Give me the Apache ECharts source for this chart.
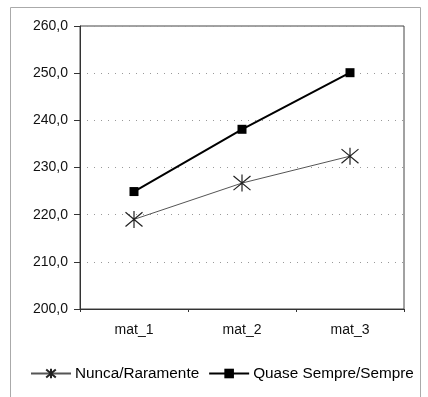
<!DOCTYPE html>
<html><head><meta charset="utf-8">
<script src="https://cdn.jsdelivr.net/npm/echarts@6/dist/echarts.min.js"></script>
<style>html,body{margin:0;padding:0;background:#fff}#c{width:428px;height:397px}</style>
</head><body><div id="c"></div>
<script>
const categories = ['mat_1', 'mat_2', 'mat_3'];
const nunca = [219.0, 226.7, 232.4];
const quase = [224.9, 238.1, 250.1];
const seriesNames = ['Nunca/Raramente', 'Quase Sempre/Sempre'];
const yMin = 200, yMax = 260, yStep = 10;

const star = 'path://M0,0L10,10M10,0L0,10M5,-1L5,11';
const chart = echarts.init(document.getElementById('c'));
const font = 'Liberation Sans, Arial, sans-serif';
chart.setOption({
  animation: false,
  backgroundColor: '#fff',
  graphic: [{type:'rect', shape:{x:10.5,y:7.5,width:410,height:400}, style:{fill:'none', stroke:'#aaa', lineWidth:1}, silent:true}],
  grid: {left: 80, top: 26, right: 24, bottom: 88, show: true, borderColor: '#444', borderWidth: 1, backgroundColor:'#fff'},
  xAxis: {type:'category', data: categories, boundaryGap: true,
    axisLine:{lineStyle:{color:'#333'}}, axisTick:{show:true, length:3, lineStyle:{color:'#333'}},
    axisLabel:{color:'#111', fontSize:14, fontFamily:font, margin:14}},
  yAxis: {type:'value', min:yMin, max:yMax, interval:yStep,
    axisLine:{show:true, lineStyle:{color:'#333'}}, axisTick:{show:true, length:6, lineStyle:{color:'#333'}},
    splitLine:{show:true, lineStyle:{color:'#999', type:[1,6], width:1}},
    axisLabel:{color:'#111', fontSize:14, fontFamily:font, margin:12, formatter: v => v.toFixed(1).replace('.', ',')}},
  legend: {top: 361, left: 25, itemGap: 9, itemWidth: 40, itemHeight: 12,
    textStyle:{color:'#000', fontSize:15.3, fontFamily:font, padding:[0,0,0,-1]},
    data: seriesNames},
  series: [
    {name: seriesNames[0], type:'line', data: nunca, symbol: star, symbolSize: 17,
      lineStyle:{color:'#555', width:1}, itemStyle:{color:'#fff', borderColor:'#222', borderWidth:1.2}},
    {name: seriesNames[1], type:'line', data: quase, symbol:'rect', symbolSize: 9,
      lineStyle:{color:'#000', width:2}, itemStyle:{color:'#000'}}
  ]
});
</script></body></html>
